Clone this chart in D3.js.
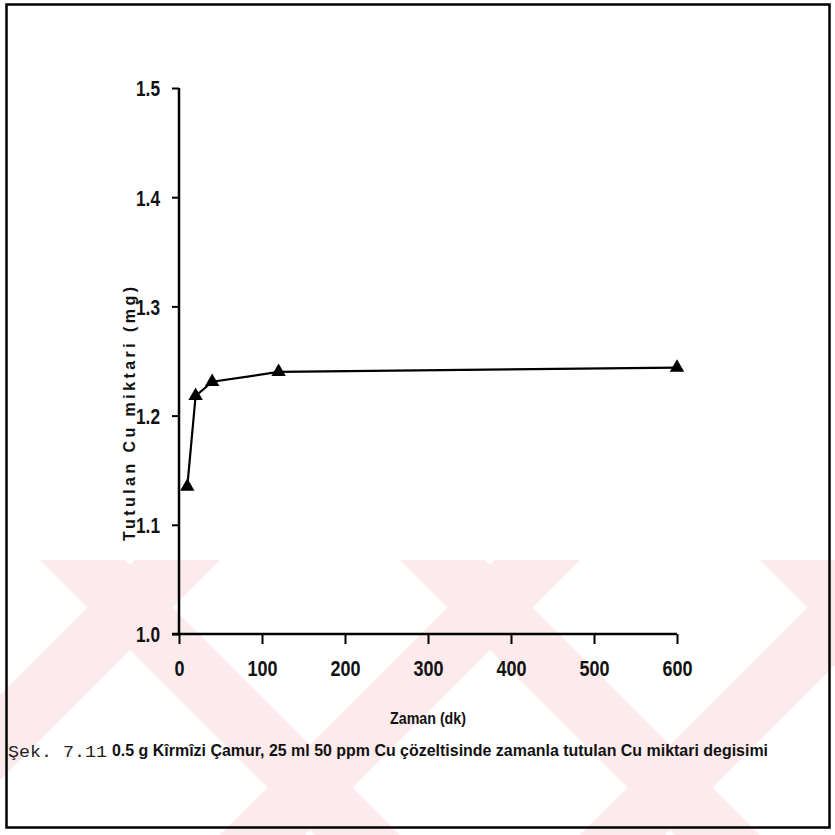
<!DOCTYPE html>
<html>
<head>
<meta charset="utf-8">
<script src="https://cdn.jsdelivr.net/npm/d3@7"></script>
<style>
  html, body { margin: 0; padding: 0; background: #fff; }
  svg { display: block; }
</style>
</head>
<body>
<svg id="chart" width="835" height="835"></svg>
<script>
// zaman (dk) ve tutulan Cu miktari (mg)
const times = [10, 20, 40, 120, 600]
const cuValues = [1.135, 1.218, 1.231, 1.240, 1.244]
const xTicks = [0, 100, 200, 300, 400, 500, 600]
const yTicks = [1.0, 1.1, 1.2, 1.3, 1.4, 1.5]

const svg = d3.select('#chart')
const narrow = '"Liberation Sans", Arial, sans-serif'

// metni verilen genislige sikistir (dar yazi tipi yok)
function squeeze(sel, perChar) {
    sel.each(function () {
        let t = d3.select(this)
        let n = t.text().length
        t.attr('textLength', perChar * n).attr('lengthAdjust', 'spacingAndGlyphs')
    })
}

// soluk filigran (watermark) bantlari
const wm = svg.append('g')
const bands = [[-140, 1], [40, -1], [220, 1], [400, -1], [580, 1], [760, -1], [940, 1]]
bands.forEach(function (b) {
    let x0 = b[0], dir = b[1], w = 85, top = 560, bot = 835
    let h = bot - top
    let pts = dir > 0
        ? [[x0, bot], [x0 + w, bot], [x0 + w + h, top], [x0 + h, top]]
        : [[x0, top], [x0 + w, top], [x0 + w + h, bot], [x0 + h, bot]]
    wm.append('polygon')
        .attr('points', pts.map(p => p.join(',')).join(' '))
        .style('fill', '#fdeaec')
})

const x = d3.scaleLinear().domain([0, 600]).range([179, 677])
const y = d3.scaleLinear().domain([1.0, 1.5]).range([634, 88])

// cerceve
svg.append('rect')
    .attr('x', 6.5).attr('y', 4.5)
    .attr('width', 823).attr('height', 823)
    .style('fill', 'none')
    .style('stroke', '#000')
    .attr('stroke-width', 2.5)

// y ekseni
const yAxis = svg.append('g')
    .attr('transform', 'translate(' + x(0) + ',0)')
    .call(d3.axisLeft(y).tickValues(yTicks).tickFormat(d3.format('.1f')).tickSize(7).tickPadding(12))
yAxis.select('.domain').attr('d', 'M0,' + y(1.5) + 'V' + y(1.0)).attr('stroke-width', 2.5)
yAxis.selectAll('.tick line').attr('stroke-width', 2)
yAxis.selectAll('.tick text')
    .attr('dy', '0.36em')
    .style('font-family', narrow)
    .style('font-size', '22px')
    .style('font-weight', 'bold')
    .attr('fill', '#111')
    .call(squeeze, 8)

// x ekseni
const xAxis = svg.append('g')
    .attr('transform', 'translate(0,' + y(1.0) + ')')
    .call(d3.axisBottom(x).tickValues(xTicks).tickSize(10).tickPadding(16))
xAxis.select('.domain').attr('d', 'M' + (x(0) - 7) + ',0H' + x(600)).attr('stroke-width', 2.5)
xAxis.selectAll('.tick line').attr('stroke-width', 2)
xAxis.selectAll('.tick text')
    .style('font-family', narrow)
    .style('font-size', '22px')
    .style('font-weight', 'bold')
    .attr('fill', '#111')
    .call(squeeze, 10)

// eksen basliklari
svg.append('text')
    .attr('transform', 'translate(135,' + 414 + ') rotate(-90)')
    .attr('text-anchor', 'middle')
    .attr('textLength', 254)
    .attr('lengthAdjust', 'spacing')
    .style('font-family', 'Arial, "Liberation Sans", sans-serif')
    .style('font-size', '16px')
    .style('font-weight', 'bold')
    .attr('fill', '#111')
    .text('Tutulan Cu miktari (mg)')

svg.append('text')
    .attr('x', 428).attr('y', 724)
    .attr('text-anchor', 'middle')
    .attr('textLength', 76)
    .attr('lengthAdjust', 'spacingAndGlyphs')
    .style('font-family', narrow)
    .style('font-size', '17px')
    .style('font-weight', 'bold')
    .attr('fill', '#111')
    .text('Zaman (dk)')

// veri cizgisi
const line = d3.line()
    .x((d, i) => x(times[i]))
    .y(d => y(d))
svg.append('path')
    .attr('d', line(cuValues))
    .style('fill', 'none')
    .style('stroke', '#000')
    .attr('stroke-width', 2.2)

const tri = d3.symbol().type(d3.symbolTriangle).size(90)
svg.selectAll('.pt')
    .data(cuValues)
    .enter().append('path')
    .attr('class', 'pt')
    .attr('d', tri)
    .attr('transform', (d, i) => 'translate(' + x(times[i]) + ',' + y(d) + ')')
    .style('fill', '#000')

// sekil aciklamasi
svg.append('text')
    .attr('x', 8).attr('y', 757)
    .attr('textLength', 99)
    .attr('lengthAdjust', 'spacingAndGlyphs')
    .style('font-family', '"Liberation Mono", "DejaVu Sans Mono", monospace')
    .style('font-size', '17px')
    .attr('fill', '#222')
    .text('Şek. 7.11')

svg.append('text')
    .attr('x', 112).attr('y', 756)
    .attr('textLength', 656)
    .attr('lengthAdjust', 'spacingAndGlyphs')
    .style('font-family', narrow)
    .style('font-size', '16px')
    .style('font-weight', 'bold')
    .attr('fill', '#111')
    .text('0.5 g Kîrmîzi Çamur, 25 ml 50 ppm Cu çözeltisinde zamanla tutulan Cu miktari degisimi')
</script>
</body>
</html>
